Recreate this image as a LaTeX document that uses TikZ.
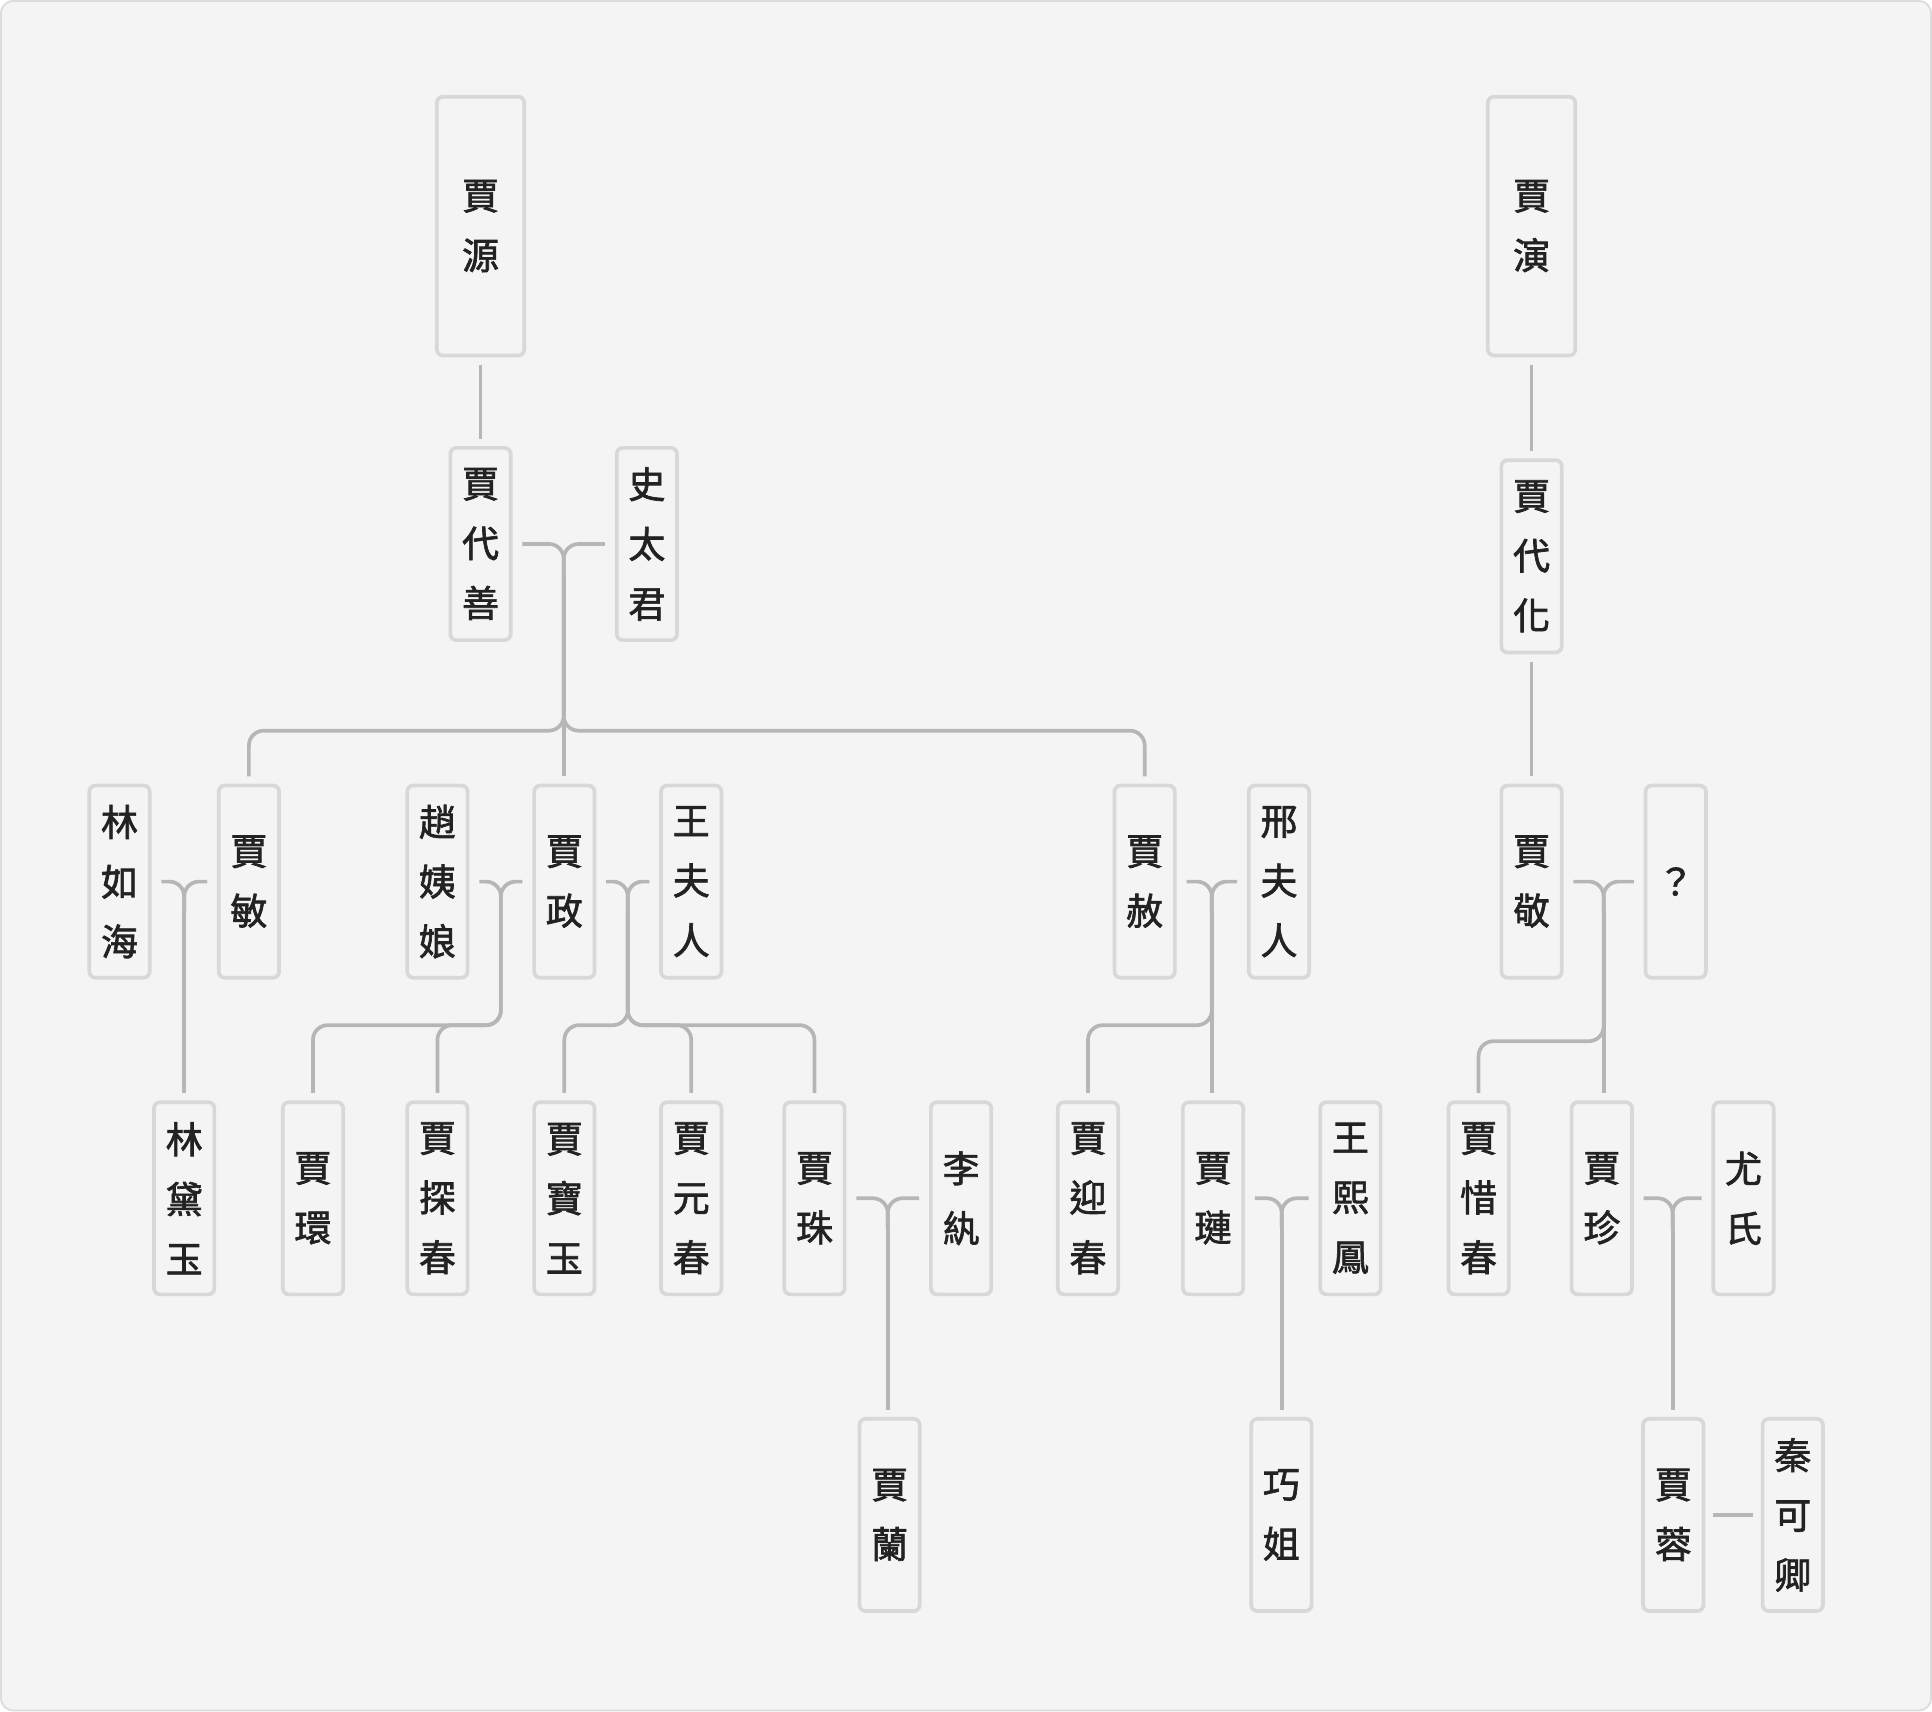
\documentclass[tikz,border=0pt]{standalone}
\usepackage{fontspec}
\setmainfont{Noto Sans CJK TC}[FakeBold=1.8]
\usepackage{xcolor}
\usepackage{tikz}
\usetikzlibrary{calc}
\definecolor{bgc}{HTML}{F4F4F4}
\definecolor{edgec}{HTML}{DCDCDC}
\definecolor{boxc}{HTML}{D8D8D8}
\definecolor{linec}{HTML}{B6B6B6}
\definecolor{txtc}{HTML}{222222}
\begin{document}
\begin{tikzpicture}[x=1pt,y=-1pt,
  person/.style={draw=boxc,line width=3,rounded corners=5,fill=bgc,minimum width=49,minimum height=156,inner sep=0,align=center,text=txtc,font=\fontsize{30}{48.5}\selectfont},
  elder/.style={person,minimum width=71,minimum height=210},
  link/.style={draw=linec,line width=3,rounded corners=12}]
\useasboundingbox (0,0) rectangle (1568,1389);
\draw[fill=bgc,draw=edgec,line width=1.5,rounded corners=10] (0.75,0.75) rectangle (1567.25,1388.25);
% generation 1 and 2
\node[elder] (jyuan) at (390,183.5) {賈\\源};
\node[elder] (jyan) at (1243,183.5) {賈\\演};
\node[person] (jdaishan) at (390,441.5) {賈\\代\\善};
\node[person] (shitj) at (525,441.5) {史\\太\\君};
\node[person] (jdaihua) at (1243,451.5) {賈\\代\\化};
% generation 3
\node[person] (linrh) at (97,715.5) {林\\如\\海};
\node[person] (jmin) at (202,715.5) {賈\\敏};
\node[person] (zhaoyn) at (355,715.5) {趙\\姨\\娘};
\node[person] (jzheng) at (458,715.5) {賈\\政};
\node[person] (wangfr) at (561,715.5) {王\\夫\\人};
\node[person] (jshe) at (929,715.5) {賈\\赦};
\node[person] (xingfr) at (1038,715.5) {邢\\夫\\人};
\node[person] (jjing) at (1243,715.5) {賈\\敬};
\node[person] (qmark) at (1360,715.5) {？};
% generation 4
\node[person] (lindy) at (149.5,972.5) {林\\黛\\玉};
\node[person] (jhuan) at (254,972.5) {賈\\環};
\node[person] (jtanc) at (355,972.5) {賈\\探\\春};
\node[person] (jbaoyu) at (458,972.5) {賈\\寶\\玉};
\node[person] (jyuanc) at (561,972.5) {賈\\元\\春};
\node[person] (jzhu) at (661,972.5) {賈\\珠};
\node[person] (liwan) at (780,972.5) {李\\紈};
\node[person] (jyingc) at (883,972.5) {賈\\迎\\春};
\node[person] (jlian) at (984.5,972.5) {賈\\璉};
\node[person] (wangxf) at (1096,972.5) {王\\熙\\鳳};
\node[person] (jxic) at (1200,972.5) {賈\\惜\\春};
\node[person] (jzhen) at (1300,972.5) {賈\\珍};
\node[person] (youshi) at (1415,972.5) {尤\\氏};
% generation 5
\node[person] (jlan) at (722,1229.5) {賈\\蘭};
\node[person] (qiaoj) at (1040,1229.5) {巧\\姐};
\node[person] (jrong) at (1358,1229.5) {賈\\蓉};
\node[person] (qinkq) at (1455,1229.5) {秦\\可\\卿};
% single lines
\draw[link] ([yshift=-6]jyuan.south) -- ([yshift=6]jdaishan.north);
\draw[link] ([yshift=-6]jyan.south) -- ([yshift=6]jdaihua.north);
\draw[link] ([yshift=-6]jdaihua.south) -- ([yshift=6]jjing.north);
\draw[link] ([xshift=6]jrong.east) -- ([xshift=-6]qinkq.west);
% couples
\coordinate (u1) at ($(jdaishan.east)!0.5!(shitj.west)+(0,24)$);
\coordinate (u2) at ($(linrh.east)!0.5!(jmin.west)+(0,24)$);
\coordinate (u3) at ($(zhaoyn.east)!0.5!(jzheng.west)+(0,24)$);
\coordinate (u4) at ($(jzheng.east)!0.5!(wangfr.west)+(0,24)$);
\coordinate (u5) at ($(jshe.east)!0.5!(xingfr.west)+(0,24)$);
\coordinate (u6) at ($(jjing.east)!0.5!(qmark.west)+(0,24)$);
\coordinate (u7) at ($(jzhu.east)!0.5!(liwan.west)+(0,24)$);
\coordinate (u8) at ($(jlian.east)!0.5!(wangxf.west)+(0,24)$);
\coordinate (u9) at ($(jzhen.east)!0.5!(youshi.west)+(0,24)$);
\foreach \l/\r/\u in {jdaishan/shitj/u1,linrh/jmin/u2,zhaoyn/jzheng/u3,jzheng/wangfr/u4,jshe/xingfr/u5,jjing/qmark/u6,jzhu/liwan/u7,jlian/wangxf/u8,jzhen/youshi/u9}{
  \draw[link] ([xshift=8]\l.east) -| (\u);
  \draw[link] ([xshift=-8]\r.west) -| (\u);
}
% children
\foreach \u/\c in {u1/jmin,u1/jshe}
  \draw[link] (\u) |- ([yshift=43]\c.north) -- ([yshift=6]\c.north);
\foreach \u/\c in {u3/jhuan,u3/jtanc,u4/jbaoyu,u4/jyuanc,u4/jzhu,u5/jyingc}
  \draw[link] (\u) |- ([yshift=61]\c.north) -- ([yshift=6]\c.north);
\draw[link] (u6) |- ([yshift=48]jxic.north) -- ([yshift=6]jxic.north);
\foreach \u/\c in {u1/jzheng,u2/lindy,u5/jlian,u6/jzhen,u7/jlan,u8/qiaoj,u9/jrong}
  \draw[link] (\u) -- ([yshift=6]\u |- \c.north);
\end{tikzpicture}
\end{document}
